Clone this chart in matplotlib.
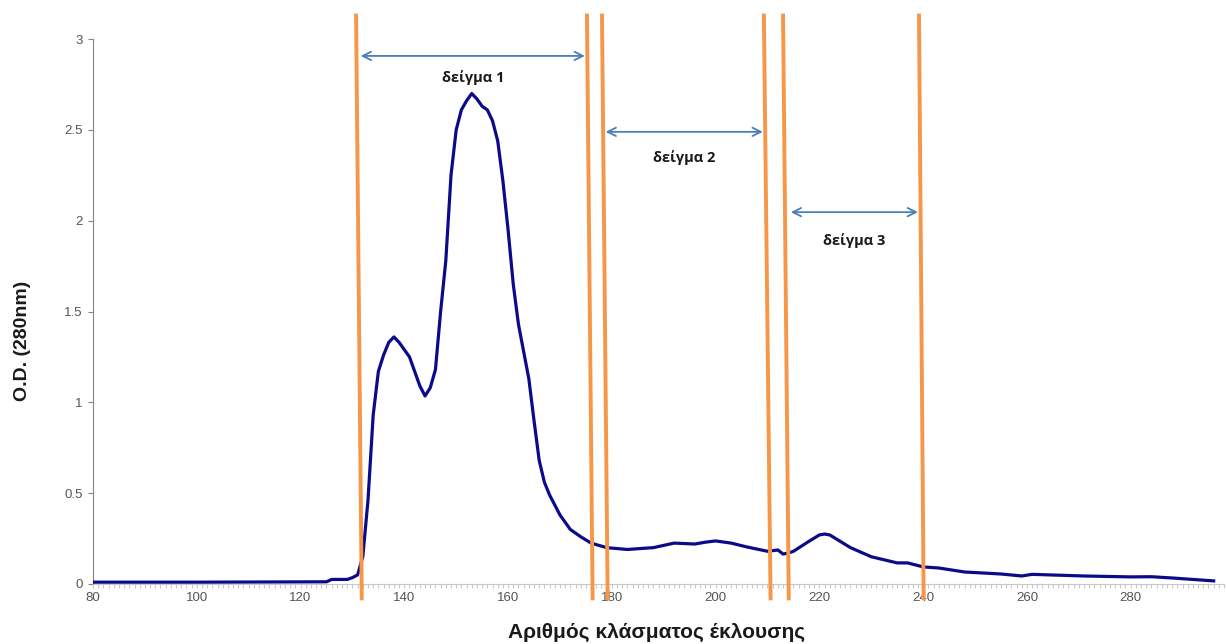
import numpy as np
import matplotlib
matplotlib.use("Agg")
import matplotlib.pyplot as plt
from matplotlib.ticker import MultipleLocator, FormatStrFormatter

# Elution profile (fraction number vs O.D. at 280 nm)
fraction = [80, 100, 125, 126, 129, 130, 131, 132, 133, 134, 135, 136, 137, 138,
            139, 140, 141, 142, 143, 144, 145, 146, 147, 148, 149, 150, 151, 152,
            153, 154, 155, 156, 157, 158, 159, 160, 161, 162, 163, 164, 165, 166,
            167, 168, 170, 172, 174, 176, 179, 183, 188, 192, 196, 198, 200, 203,
            206, 210, 212, 213, 214, 215, 218, 220, 221, 222, 226, 230, 235, 237,
            240, 243, 248, 255, 259, 261, 271, 280, 284, 288, 296]
od280 = [0.01, 0.01, 0.012, 0.025, 0.025, 0.035, 0.05, 0.15, 0.46, 0.93, 1.17, 1.26,
         1.33, 1.36, 1.33, 1.29, 1.25, 1.17, 1.09, 1.035, 1.08, 1.18, 1.50, 1.78,
         2.25, 2.50, 2.61, 2.66, 2.70, 2.67, 2.63, 2.61, 2.55, 2.44, 2.22, 1.95,
         1.65, 1.43, 1.28, 1.13, 0.90, 0.68, 0.56, 0.49, 0.38, 0.30, 0.26, 0.225,
         0.20, 0.19, 0.20, 0.225, 0.22, 0.23, 0.237, 0.225, 0.204, 0.18, 0.187,
         0.165, 0.17, 0.18, 0.235, 0.27, 0.275, 0.27, 0.20, 0.15, 0.116, 0.116,
         0.094, 0.088, 0.066, 0.055, 0.044, 0.053, 0.044, 0.039, 0.04, 0.033, 0.017]

# hand-drawn cut lines: x at top and at bottom
cut_top = [130.7, 175.2, 178.1, 209.3, 213.0, 239.2]
cut_bottom = [131.8, 176.3, 179.2, 210.6, 214.1, 240.1]

# sample ranges marked with double arrows
sample_names = ["δείγμα 1", "δείγμα 2", "δείγμα 3"]
sample_start = [131.6, 178.8, 214.5]
sample_end = [174.8, 209.1, 239.0]
sample_arrow_y = [2.907, 2.489, 2.047]
sample_label_y = [2.79, 2.346, 1.889]

plt.rcParams['font.family'] = ['Liberation Sans', 'DejaVu Sans']

fig = plt.figure(figsize=(12.27, 6.44), dpi=100)
ax = fig.add_axes([0.0758, 0.0932, 0.9218, 0.8462])

ax.plot(fraction, od280, color="#0b0b8a", lw=2.3, solid_joinstyle="round", zorder=3)

ax.set_xlim(80, 298)
ax.set_ylim(0, 3)

# orange cut lines run past the plot area
for xt, xb in zip(cut_top, cut_bottom):
    ax.plot([xt, xb], [3.14, -0.09], color="#F79646", lw=2.8, clip_on=False,
            solid_capstyle="butt", zorder=4)

for name, x0, x1, ya, yl in zip(sample_names, sample_start, sample_end,
                                sample_arrow_y, sample_label_y):
    ax.annotate("", xy=(x0, ya), xytext=(x1, ya),
                arrowprops=dict(arrowstyle="<->,head_length=0.6,head_width=0.3",
                                color="#4A7EBB", lw=1.3, shrinkA=0, shrinkB=0))
    ax.text((x0 + x1) / 2, yl, name, ha="center", va="center",
            fontsize=10.5, fontweight="bold", color="#1a1a1a",
            family=["Open Sans", "DejaVu Sans"])

for side in ["top", "right"]:
    ax.spines[side].set_visible(False)
ax.spines["left"].set_color("#868686")
ax.spines["bottom"].set_color("#c8c8c8")

ax.xaxis.set_major_locator(MultipleLocator(20))
ax.xaxis.set_minor_locator(MultipleLocator(1))
ax.yaxis.set_major_locator(MultipleLocator(0.5))
ax.yaxis.set_major_formatter(FormatStrFormatter("%g"))
ax.tick_params(axis="x", which="both", direction="out", length=3, width=0.6,
               color="#bdbdbd", labelsize=9.5, labelcolor="#555555", pad=3)
ax.tick_params(axis="y", direction="out", length=3.5, width=0.8,
               color="#868686", labelsize=9.5, labelcolor="#555555", pad=4)

fig.text(0.018, 0.47, "O.D. (280nm)", rotation=90, ha="center", va="center",
         fontsize=14, fontweight="bold", color="#1a1a1a")
fig.text(0.535, 0.018, "Αριθμός κλάσματος έκλουσης", ha="center", va="center",
         fontsize=15, fontweight="bold", color="#1a1a1a")

fig.savefig("out.png", dpi=100)
